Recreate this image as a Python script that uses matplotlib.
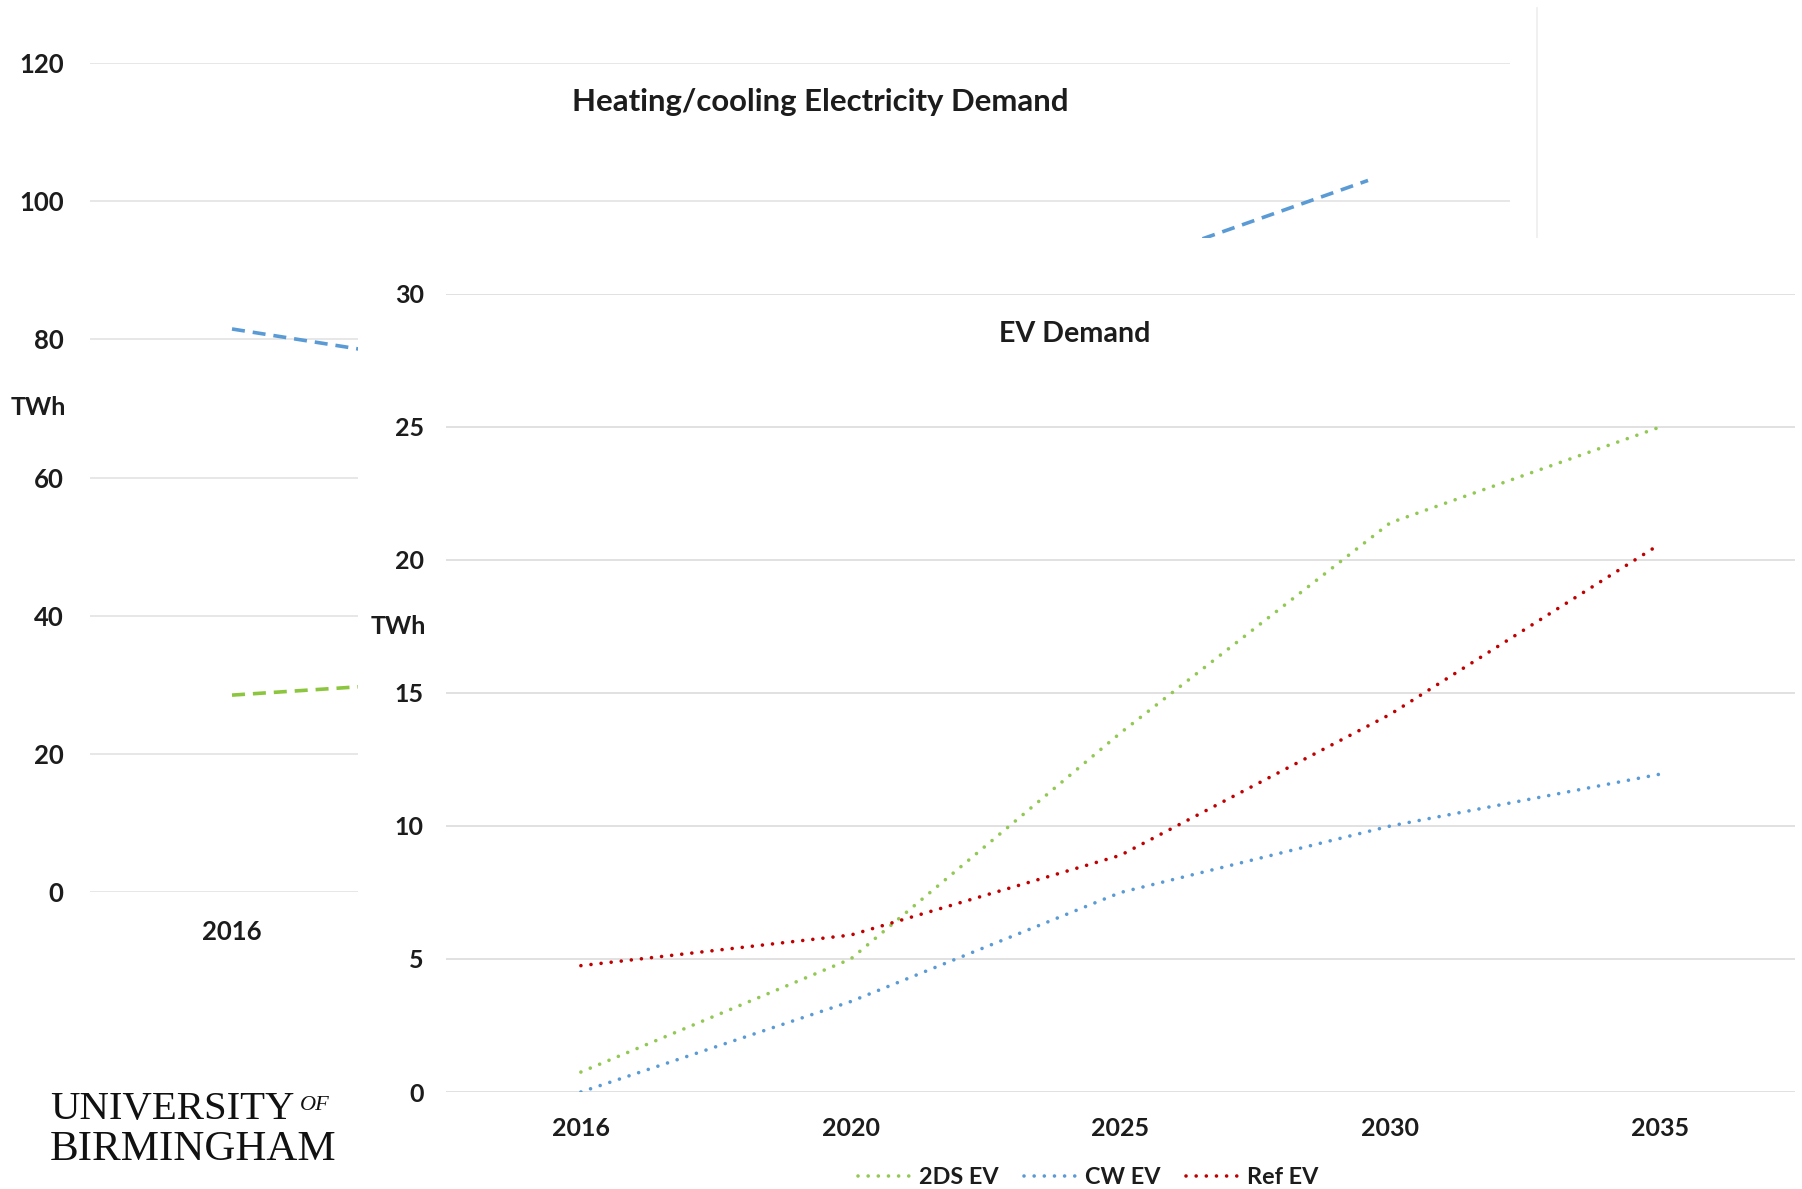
import numpy as np
import matplotlib
matplotlib.use('Agg')
import matplotlib.pyplot as plt
from matplotlib.patches import Rectangle
from matplotlib.lines import Line2D

years = ['2016', '2020', '2025', '2030', '2035']

# heating/cooling electricity demand (TWh) - the middle of this chart sits under the EV panel
heat_blue = [81.5, 75.0, np.nan, 88.5, 103.0]
heat_green = [28.5, 31.2, np.nan, np.nan, np.nan]

# EV demand (TWh)
ev_2ds = [0.75, 5.0, 13.5, 21.4, 25.0]
ev_cw = [0.0, 3.4, 7.5, 10.0, 11.95]
ev_ref = [4.75, 5.9, 8.9, 14.2, 20.6]
ev_names = ['2DS EV', 'CW EV', 'Ref EV']
ev_colors = ['#92C853', '#5B9BD5', '#C00000']

W, H = 1802, 1189
FONT = 'Lato'
INK = '#1c1c1c'


def box(x0, y0, x1, y1):
    # pixel box (top-left origin) -> figure fraction rect
    return [x0 / W, 1 - y1 / H, (x1 - x0) / W, (y1 - y0) / H]


fig = plt.figure(figsize=(W / 100, H / 100), dpi=100)
x = np.arange(len(years))

# ---- back chart: heating/cooling ----
ax1 = fig.add_axes(box(90, 63, 1510, 892), zorder=0)
ax1.plot(x, heat_blue, color='#5B9BD5', lw=2.6, linestyle=(0, (3.6, 2.2)))
ax1.plot(x, heat_green, color='#8CC63F', lw=2.6, linestyle=(0, (3.6, 2.2)))
ax1.set_xlim(-0.5, 4.5)
ax1.set_ylim(0, 120)
ax1.set_yticks(range(0, 121, 20))
ax1.set_xticks(x)
ax1.set_xticklabels(years)
ax1.grid(axis='y', color='#E3E3E3', lw=1.2)
ax1.set_axisbelow(True)
for s in ax1.spines.values():
    s.set_visible(False)
ax1.tick_params(length=0, labelsize=18.5, labelcolor=INK)
ax1.tick_params(axis='y', pad=19)
ax1.tick_params(axis='x', pad=20)
for lab in ax1.get_xticklabels() + ax1.get_yticklabels():
    lab.set_fontfamily(FONT)
    lab.set_fontweight('bold')
fig.text(38 / W, 1 - 407 / H, 'TWh', ha='center', va='center', fontsize=18,
         fontweight='bold', family=FONT, color=INK)
fig.text(820 / W, 1 - 102 / H, 'Heating/cooling Electricity Demand', ha='center',
         va='center', fontsize=22.4, fontweight='bold', family=FONT, color=INK)
fig.add_artist(Line2D([1537 / W, 1537 / W], [1 - 8 / H, 1 - 238 / H],
                      transform=fig.transFigure, color='#EDEDED', lw=1.2, zorder=0))

# white panel of the EV chart laid over the back chart
fig.add_artist(Rectangle((358 / W, 0), 1 - 358 / W, (H - 238) / H,
                         transform=fig.transFigure, facecolor='white',
                         edgecolor='none', zorder=1))

# ---- front chart: EV demand ----
ax2 = fig.add_axes(box(446, 294, 1795, 1092), zorder=2)
ax2.patch.set_visible(False)
handles = []
for vals, name, col in zip([ev_2ds, ev_cw, ev_ref], ev_names, ev_colors):
    ln, = ax2.plot(x, vals, color=col, lw=2.6, linestyle=(0, (0.01, 2.8)),
                   dash_capstyle='round', label=name)
    handles.append(ln)
ax2.set_xlim(-0.5, 4.5)
ax2.set_ylim(0, 30)
ax2.set_yticks(range(0, 31, 5))
ax2.set_xticks(x)
ax2.set_xticklabels(years)
ax2.grid(axis='y', color='#DCDCDC', lw=1.2)
ax2.set_axisbelow(True)
for s in ax2.spines.values():
    s.set_visible(False)
ax2.tick_params(length=0, labelsize=18, labelcolor=INK)
ax2.tick_params(axis='y', pad=16)
ax2.tick_params(axis='x', pad=18)
for lab in ax2.get_xticklabels() + ax2.get_yticklabels():
    lab.set_fontfamily(FONT)
    lab.set_fontweight('bold')
fig.text(398 / W, 1 - 626 / H, 'TWh', ha='center', va='center', fontsize=18,
         fontweight='bold', family=FONT, color=INK, zorder=3)
fig.text(1075 / W, 1 - 334 / H, 'EV Demand', ha='center', va='center',
         fontsize=20.6, fontweight='bold', family=FONT, color=INK, zorder=3)

leg = fig.legend(handles=handles, loc='center', bbox_to_anchor=(1088 / W, 1 - 1178 / H),
                 ncol=3, frameon=False, handlelength=2.4, handletextpad=0.2,
                 columnspacing=1.1, prop={'family': FONT, 'weight': 'bold', 'size': 16.8})
leg.set_zorder(3)
for t in leg.get_texts():
    t.set_color(INK)

# university logo, bottom left
fig.text(50 / W, 1 - 1110 / H, 'UNIVERSITY', ha='left', va='center', fontsize=29.3,
         family='Liberation Serif', color='#111111', zorder=3)
fig.text(300 / W, 1 - 1106 / H, 'OF', ha='left', va='center', fontsize=16,
         family='Liberation Serif', style='italic', color='#111111', zorder=3)
fig.text(50 / W, 1 - 1150 / H, 'BIRMINGHAM', ha='left', va='center', fontsize=31,
         family='Liberation Serif', color='#111111', zorder=3)

fig.savefig('out.png', dpi=100, facecolor='white')
